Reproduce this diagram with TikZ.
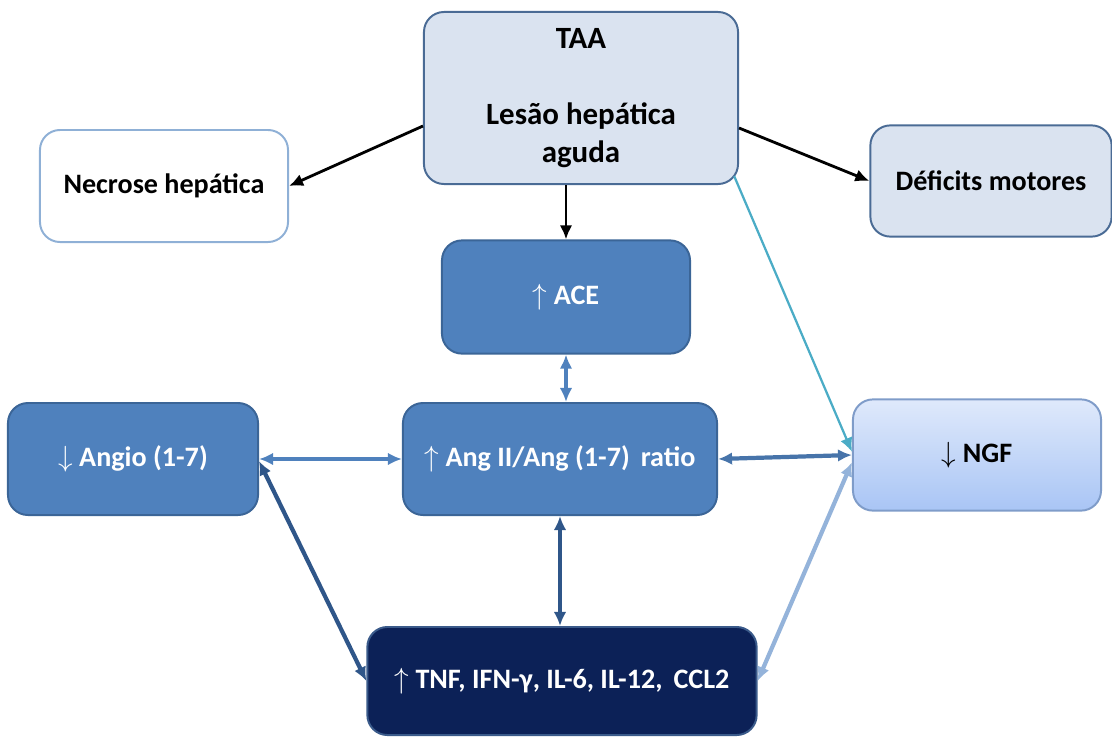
\documentclass[tikz,border=0pt]{standalone}
\usepackage{fontspec}
\setmainfont{Carlito}
\usetikzlibrary{arrows.meta}

\definecolor{caixaclara}{HTML}{DAE3F0}
\definecolor{bordaescura}{HTML}{4A6B95}
\definecolor{bordaclara}{HTML}{8FB0D6}
\definecolor{azulmedio}{HTML}{4F81BD}
\definecolor{bordamedia}{HTML}{3B6597}
\definecolor{azulmarinho}{HTML}{0C2157}
\definecolor{bordamarinho}{HTML}{3A5A8A}
\definecolor{ngftopo}{HTML}{DFE9FB}
\definecolor{ngfbase}{HTML}{A9C5F5}
\definecolor{bordangf}{HTML}{7F9CC9}
\definecolor{verdeazul}{HTML}{4BACC6}
\definecolor{setaescura}{HTML}{2F5689}
\definecolor{setaclara}{HTML}{94B3DA}

\begin{document}
\begin{tikzpicture}[x=0.025cm,y=-0.025cm,>={Latex[length=10pt,width=9pt]},
    caixa/.style={rectangle,rounded corners=0.5cm,line width=1.4pt,align=center,
        font=\bfseries\fontsize{20}{25}\selectfont},
    clara/.style={caixa,fill=caixaclara,draw=bordaescura,text=black},
    media/.style={caixa,fill=azulmedio,draw=bordamedia,text=white},
    seta/.style={->,line width=2pt},
    dupla/.style={<->,line width=2.6pt,color=azulmedio}]

\useasboundingbox (0,0) rectangle (1112,738);

\node[clara,minimum width=7.85cm,minimum height=4.3cm,font=\bfseries\fontsize{22}{27}\selectfont] (taa) at (581,98)
    {TAA\\[27pt]Lesão hepática\\aguda};
\node[caixa,fill=white,draw=bordaclara,minimum width=6.2cm,minimum height=2.8cm] (necrose) at (164,186)
    {Necrose hepática};
\node[clara,minimum width=6.03cm,minimum height=2.78cm] (deficits) at (991,181)
    {Déficits motores};

\node[media,minimum width=6.2cm,minimum height=2.83cm] (ace) at (566,297) {$\uparrow$ ACE};
\node[media,minimum width=6.25cm,minimum height=2.8cm] (angio) at (133,459) {$\downarrow$ Angio (1-7)};
\node[media,minimum width=7.85cm,minimum height=2.8cm] (ratio) at (560,459)
    {$\uparrow$ Ang II/Ang (1-7)\, ratio};
\node[caixa,top color=ngftopo,bottom color=ngfbase,draw=bordangf,minimum width=6.2cm,minimum height=2.78cm] (ngf) at (977,455)
    {$\downarrow$ NGF};
\node[caixa,fill=azulmarinho,draw=bordamarinho,text=white,minimum width=9.73cm,minimum height=2.7cm] (citocinas) at (562,681)
    {$\uparrow$ TNF, IFN-γ, IL-6, IL-12,\, CCL2};

\draw[seta] ([yshift=-0.7cm]taa.west) -- (necrose.east);
\draw[seta] ([yshift=-0.75cm]taa.east) -- (deficits.west);
\draw[seta] (taa.south -| ace.north) -- (ace.north);
\draw[seta,color=verdeazul,line width=1.6pt] ([xshift=-0.12cm,yshift=0.22cm]taa.south east) -- ([yshift=0.08cm]ngf.west);

\draw[dupla] (ace.south) -- (ace.south |- ratio.north);
\draw[dupla] (angio.east) -- (ratio.west);
\draw[dupla,color=azulmedio!90!black,line width=3pt] (ratio.east) -- (ngf.west);
\draw[dupla,color=setaescura] (ratio.south) -- (ratio.south |- citocinas.north);
\draw[dupla,color=setaescura,line width=3pt] ([yshift=-0.05cm]angio.east) -- (citocinas.west);
\draw[dupla,color=setaclara,line width=3pt] ([yshift=-0.18cm]ngf.west) -- (citocinas.east);
\end{tikzpicture}
\end{document}
